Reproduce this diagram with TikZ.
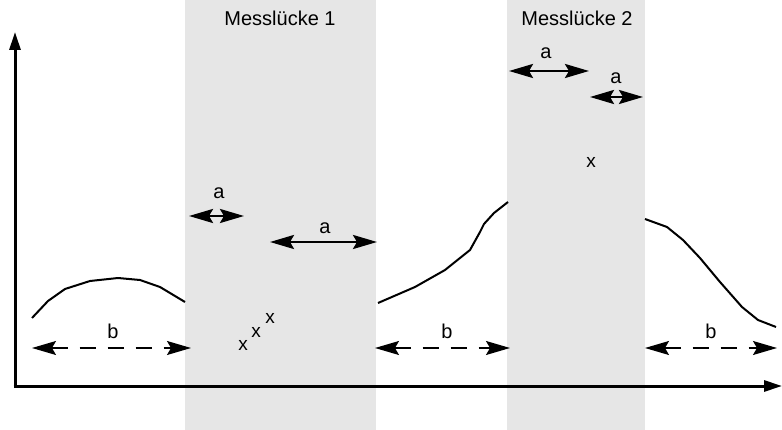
\documentclass[tikz,border=0pt]{standalone}
\usepackage{fontspec}
\setmainfont{Liberation Sans}
\usepackage{xcolor}
\usetikzlibrary{arrows.meta,positioning}
\definecolor{gapgray}{RGB}{230,230,230}
\tikzset{
  gapbox/.style={fill=gapgray, draw=none},
  axisline/.style={line width=3pt, -{Triangle[length=18pt,width=11pt]}},
  curveline/.style={line width=2pt, line join=round},
  spanarrow/.style={line width=2.6pt, {Stealth[length=24pt,width=14pt,inset=4pt]}-{Stealth[length=24pt,width=14pt,inset=4pt]}},
  spandash/.style={spanarrow, line width=1.3pt, dash pattern=on 16pt off 12pt},
  lbl/.style={font=\fontsize{20}{22}\selectfont, inner sep=0pt},
  xmark/.style={font=\fontsize{19}{22}\selectfont, inner sep=0pt}
}

\begin{document}
\begin{tikzpicture}[x=1pt, y=-1pt]
\useasboundingbox (0,0) rectangle (782,430);
% measurement gaps
\fill[gapbox] (185,0) rectangle (376,430);
\fill[gapbox] (507,0) rectangle (645,430);
\node[lbl] (gap1) at (280,18) {Messlücke 1};
\node[lbl] (gap2) at (577,18) {Messlücke 2};

% axes
\coordinate (origin) at (15,386);
\coordinate (ytop) at (15,32);
\coordinate (xend) at (782,386);
\draw[axisline] (origin) -- (ytop);
\draw[axisline] ([xshift=-1.5pt]origin) -- (xend);

% measured curves
\draw[curveline] (32,318) -- (48,301) -- (65,289) -- (90,281) -- (118,278)
  -- (140,280) -- (160,287) -- (185,302);
\draw[curveline] (378,303) -- (415,287) -- (445,270) -- (470,250) -- (480,232)
  -- (484,224) -- (494,213) -- (508,202);
\draw[curveline] (645,219) -- (667,227) -- (683,240) -- (700,258) -- (720,282)
  -- (742,307) -- (758,320) -- (776,327);

% spans b
\coordinate (b1l) at (32,348);  \coordinate (b1r) at (191,348);
\coordinate (b2l) at (375,348); \coordinate (b2r) at (510,348);
\coordinate (b3l) at (645,348); \coordinate (b3r) at (777,348);
\draw[spandash] (b1l) -- (b1r);
\draw[spandash] (b2l) -- (b2r);
\draw[spandash] (b3l) -- (b3r);
\node[lbl] (lb1) at (113,331) {b};
\node[lbl] (lb2) at (447,331) {b};
\node[lbl] (lb3) at (711,331) {b};

% spans a
\coordinate (a1l) at (189,216); \coordinate (a1r) at (244,216);
\coordinate (a2l) at (270,242); \coordinate (a2r) at (377,242);
\coordinate (a3l) at (509,71);  \coordinate (a3r) at (589,71);
\coordinate (a4l) at (590,97);  \coordinate (a4r) at (643,97);
\draw[spanarrow] (a1l) -- (a1r);
\draw[spanarrow] (a2l) -- (a2r);
\draw[spanarrow] (a3l) -- (a3r);
\draw[spanarrow] (a4l) -- (a4r);
\node[lbl] (la1) at (219,193) {a};
\node[lbl] (la2) at (325,228) {a};
\node[lbl] (la3) at (546,53) {a};
\node[lbl] (la4) at (616,78) {a};

% values inside gaps
\node[xmark] (x1) at (243,345) {x};
\node[xmark] (x2) at (256,332) {x};
\node[xmark] (x3) at (270,318) {x};
\node[xmark] (x4) at (591,162) {x};
\end{tikzpicture}
\end{document}
